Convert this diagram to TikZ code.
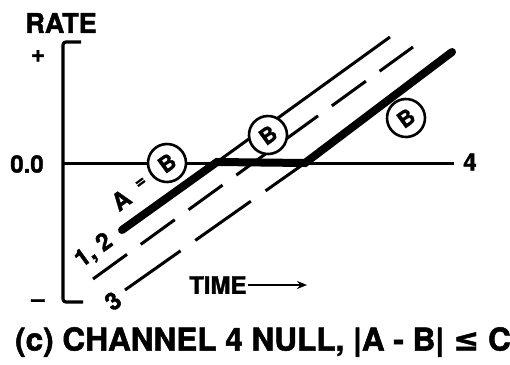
\documentclass[tikz,border=0pt]{standalone}
\usepackage{fontspec}
\setmainfont{TeX Gyre Heros}[BoldFeatures={FakeBold=1.6}]
\newfontfamily\symfont{DejaVu Sans}[BoldFeatures={FakeBold=1.2}]
\usetikzlibrary{arrows.meta}
\begin{document}
\begin{tikzpicture}[x=1pt,y=-1pt,
  lbl/.style={font=\bfseries\fontsize{24}{24}\selectfont, inner sep=0pt},
  bcirc/.style={draw, circle, line width=2.6pt, fill=white, minimum size=38pt, inner sep=0pt,
     font=\bfseries\fontsize{22}{22}\selectfont, rotate=36},
  thin/.style={line width=3pt},
  thick/.style={line width=8pt},
  axis/.style={line width=3.2pt}]
\useasboundingbox (0,0) rectangle (510,364);
% axis
\coordinate (ytop) at (63,42);
\coordinate (ybot) at (63,302);
\draw[axis, rounded corners=3pt] (81,42) -- (ytop) -- (ybot) -- (83,302);
\node[lbl, font=\bfseries\fontsize{27}{27}\selectfont] (rate) at (61,23) {RATE};
\node[lbl] (plus) at (38,56) {+};
\node[lbl] (minus) at (38,303) {–};
\node[lbl] (zero) at (27,164) {0.0};
% zero line
\coordinate (z0) at (63,163);
\coordinate (z1) at (454,163);
\draw[thin] (z0) -- (z1);
\node[lbl] (four) at (470,162) {4};
% lines
\coordinate (a0) at (122,230);
\coordinate (j1) at (217,162);
\coordinate (u1) at (390,37);
\coordinate (d0) at (93,279);
\coordinate (d1) at (413,47);
\coordinate (t0) at (125,290);
\coordinate (j2) at (305,163);
\coordinate (t1) at (452,52);
\draw[thin] (j1) -- (u1);
\draw[thin, dash pattern=on 42pt off 17pt] (d0) -- (d1);
\draw[thin, dash pattern=on 68pt off 18pt] (t0) -- (j2);
\draw[thick, line cap=round] (a0) -- (j1) -- (j2) -- (t1);
% circles
\node[bcirc] (b1) at (167,163) {B};
\node[bcirc] (b2) at (268,135) {B};
\node[bcirc] (b3) at (406,118) {B};
% labels on lines
\node[lbl, rotate=36] (la) at (121,200) {A};
\node[lbl, rotate=36, font=\bfseries\fontsize{18}{18}\selectfont] (leq) at (141,183) {=};
\node[lbl, rotate=36] (l12) at (94,251) {1, 2};
\node[lbl, rotate=36] (l3) at (113,301) {3};
% time
\node[lbl, anchor=west] (time) at (189,285) {TIME};
\coordinate (tarr) at (307,285);
\draw[line width=2.2pt, -{Stealth[length=10pt,width=8pt]}] (time.east) ++(1,0) -- (tarr);
% caption
\node[lbl, font=\bfseries\fontsize{31.5}{31.5}\selectfont] (cap) at (263,342) {(c) CHANNEL 4 NULL, |A - B| {\symfont\bfseries ≤} C};
\end{tikzpicture}
\end{document}
